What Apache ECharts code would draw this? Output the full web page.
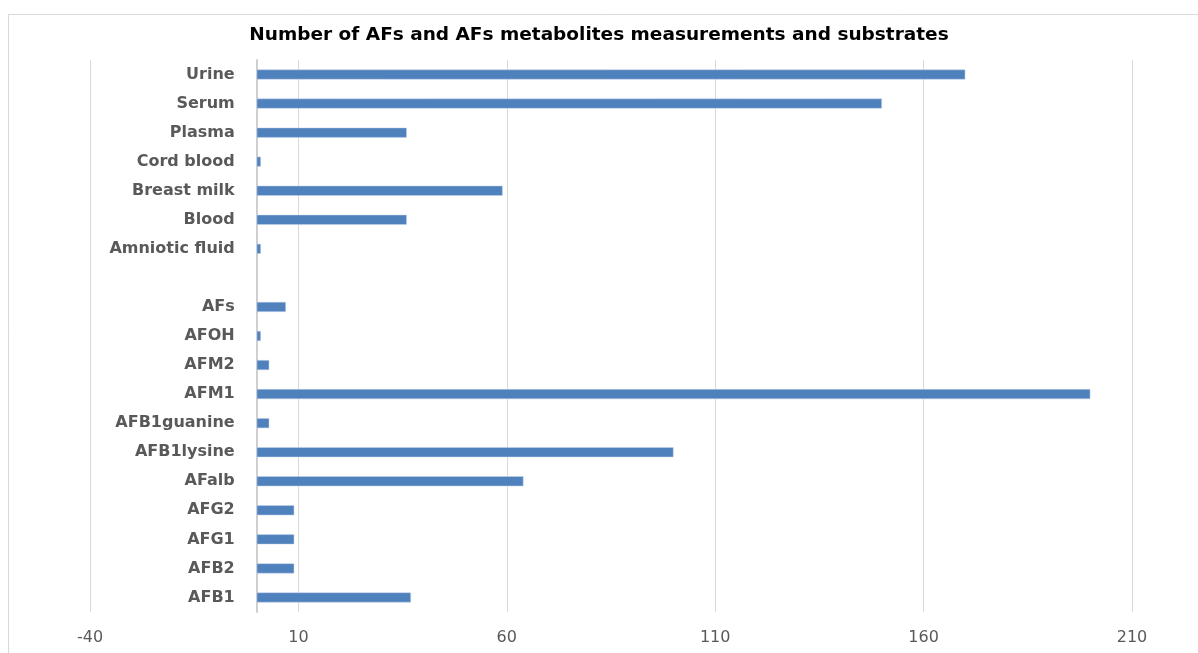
<!DOCTYPE html>
<html>
<head>
<meta charset="utf-8">
<script src="https://cdn.jsdelivr.net/npm/echarts@6/dist/echarts.min.js"></script>
<style>
  html, body { margin: 0; padding: 0; background: #fff; }
  #chart { width: 1198px; height: 653px; }
</style>
</head>
<body>
<div id="chart"></div>
<script>
// Substrates and AF compounds, bottom to top; the empty entry separates the two groups
const categories = [
  'AFB1', 'AFB2', 'AFG1', 'AFG2', 'AFalb', 'AFB1lysine', 'AFB1guanine',
  'AFM1', 'AFM2', 'AFOH', 'AFs', '',
  'Amniotic fluid', 'Blood', 'Breast milk', 'Cord blood', 'Plasma', 'Serum', 'Urine'
];
// Number of measurements per category (null for the spacer row)
const counts = [
  37, 9, 9, 9, 64, 100, 3,
  200, 3, 1, 7, null,
  1, 36, 59, 1, 36, 150, 170
];
const axisMin = -40;
const axisMax = 210;
const axisStep = 50;

const gridLeft = 90;
const gridRight = 66;
const plotWidth = 1198 - gridLeft - gridRight;
// shift the category axis so it sits on the zero line
const zeroOffset = plotWidth * (0 - axisMin) / (axisMax - axisMin);

const chart = echarts.init(document.getElementById('chart'));
chart.setOption({
  animation: false,
  title: {
    text: 'Number of AFs and AFs metabolites measurements and substrates',
    left: 'center',
    top: 21,
    textStyle: { fontFamily: 'DejaVu Sans', fontWeight: 'bold', fontSize: 18.5, color: '#000' }
  },
  graphic: [{
    type: 'rect',
    shape: { x: 8.5, y: 14.5, width: 1200, height: 660 },
    style: { fill: 'none', stroke: '#d9d9d9', lineWidth: 1 },
    silent: true
  }],
  grid: { left: gridLeft, right: gridRight, top: 60, bottom: 41, outerBoundsMode: 'none', containLabel: false },
  xAxis: {
    type: 'value',
    min: axisMin,
    max: axisMax,
    interval: axisStep,
    axisLine: { show: false },
    axisTick: { show: false },
    splitLine: { lineStyle: { color: '#d9d9d9', width: 1 } },
    axisLabel: { color: '#595959', fontFamily: 'DejaVu Sans', fontSize: 16, margin: 18 }
  },
  yAxis: {
    type: 'category',
    data: categories,
    position: 'left',
    offset: -zeroOffset,
    axisLine: { lineStyle: { color: '#cfcfcf', width: 2 } },
    axisTick: { show: false },
    axisLabel: {
      color: '#595959', fontFamily: 'DejaVu Sans', fontWeight: 'bold', fontSize: 16,
      margin: 22,
      padding: [6, 0, 0, 0]
    }
  },
  series: [{
    type: 'bar',
    data: counts,
    barWidth: 10,
    itemStyle: { color: '#4f81bd', borderColor: '#c6d5ea', borderWidth: 0.5 }
  }]
});
</script>
</body>
</html>
